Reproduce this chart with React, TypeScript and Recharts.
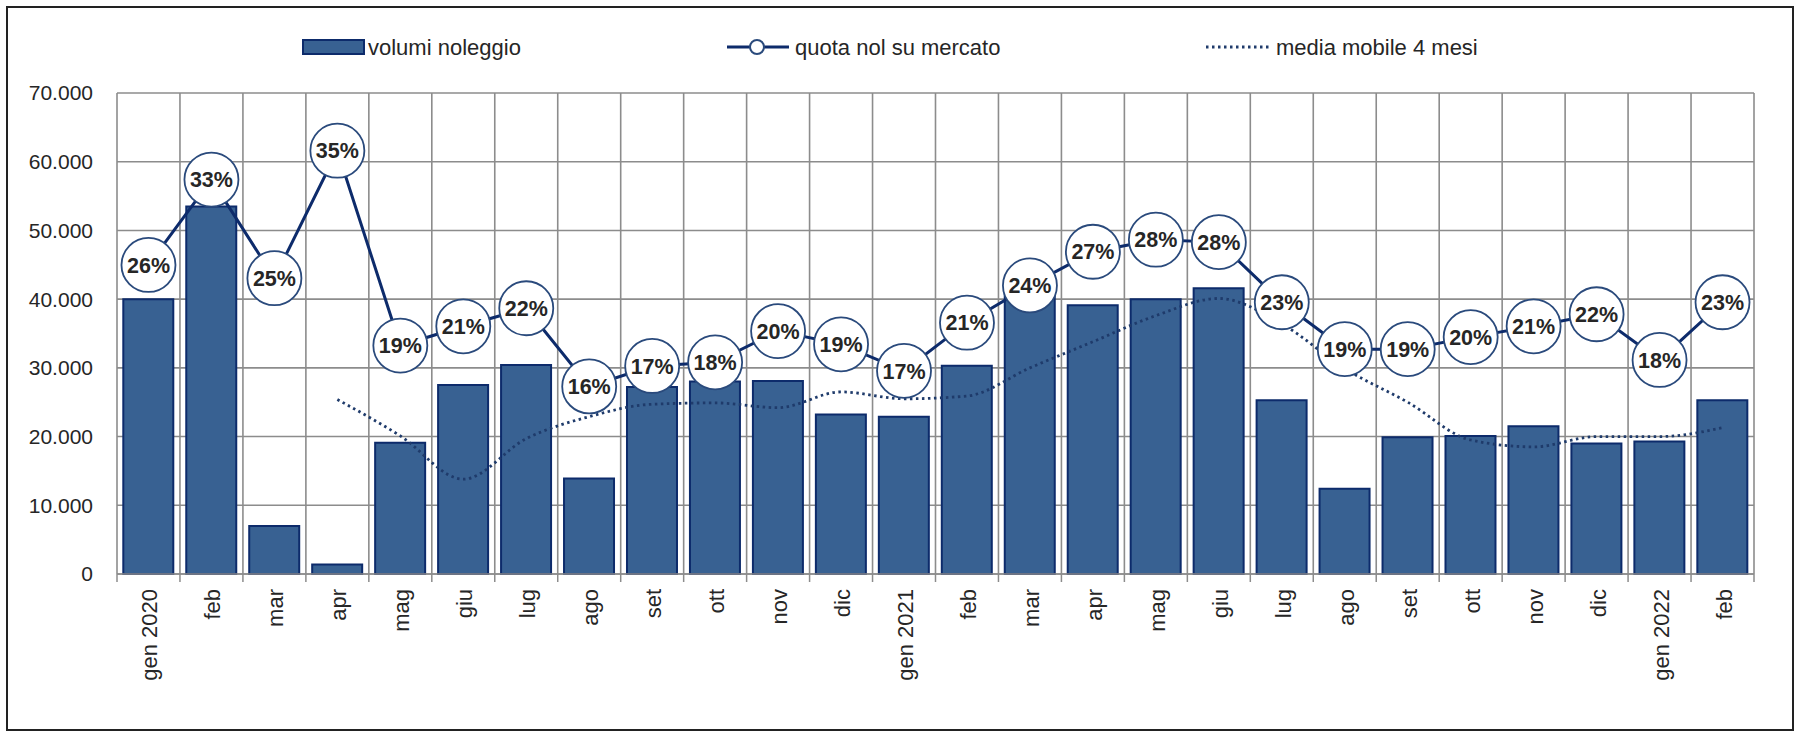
import React from 'react';
import { ComposedChart, Bar, Line, XAxis, YAxis, CartesianGrid } from 'recharts';

// ---- data ----
const months = [
  'gen 2020', 'feb', 'mar', 'apr', 'mag', 'giu', 'lug', 'ago', 'set', 'ott', 'nov', 'dic',
  'gen 2021', 'feb', 'mar', 'apr', 'mag', 'giu', 'lug', 'ago', 'set', 'ott', 'nov', 'dic',
  'gen 2022', 'feb',
];
const volumiNoleggio = [
  40000, 53500, 7000, 1400, 19100, 27500, 30400, 13900, 27200, 28000, 28100, 23200,
  22900, 30300, 42500, 39100, 40000, 41600, 25300, 12400, 19900, 20100, 21500, 19000,
  19300, 25300,
];
const quotaNol = [
  0.257, 0.328, 0.246, 0.352, 0.19, 0.206, 0.221, 0.156, 0.173, 0.176, 0.202, 0.191,
  0.169, 0.209, 0.24, 0.268, 0.278, 0.276, 0.226, 0.187, 0.187, 0.197, 0.206, 0.216,
  0.178, 0.226,
];
const mediaMobile: (number | null)[] = [
  null, null, null, 25400, 20100, 13800, 19700, 22900, 24700, 24900, 24200, 26500,
  25500, 25900, 30000, 33800, 37600, 40100, 36400, 29900, 25000, 19500, 18500, 20000,
  20000, 21300,
];
const yTicks = [0, 10000, 20000, 30000, 40000, 50000, 60000, 70000];
const legendLabels = ['volumi noleggio', 'quota nol su mercato', 'media mobile 4 mesi'];

const data = months.map((m, i) => ({
  key: i,
  month: m,
  volumi: volumiNoleggio[i],
  quota: quotaNol[i],
  media: mediaMobile[i],
}));

// ---- styles ----
const FONT = '"Liberation Sans", Arial, Helvetica, sans-serif';
const TEXT = '#262626';
const GRID = '#8c8c8c';
const BAR_FILL = '#386192';
const NAVY = '#0d2b6b';
const CIRCLE_STROKE = '#2a4a7c';
const DOTTED = '#1f3b6b';

const fmt = (v: number) => String(v).replace(/\B(?=(\d{3})+(?!\d))/g, '.');

const XTick = (props: any) => {
  const { x, y, payload, index } = props;
  const i = Number(payload.value);
  const half = payload.offset || 0;
  const isLast = index === months.length - 1;
  return (
    <g>
      <line x1={x - half} y1={y} x2={x - half} y2={y + 8} stroke={GRID} strokeWidth={1.5} />
      {isLast && <line x1={x + half} y1={y} x2={x + half} y2={y + 8} stroke={GRID} strokeWidth={1.5} />}
      <text
        transform={`translate(${x + 9}, ${y + 15}) rotate(-90)`}
        textAnchor="end"
        fontFamily={FONT}
        fontSize={22}
        fill={TEXT}
      >
        {months[i]}
      </text>
    </g>
  );
};

const QuotaDot = (props: any) => {
  const { cx, cy, value, index } = props;
  if (cx == null || cy == null || value == null) return null;
  return (
    <g key={`qd-${index}`}>
      <circle cx={cx} cy={cy} r={27} fill="#ffffff" stroke={CIRCLE_STROKE} strokeWidth={1.8} />
      <text
        x={cx}
        y={cy}
        dy="0.36em"
        textAnchor="middle"
        fontFamily={FONT}
        fontWeight="bold"
        fontSize={21.5}
        fill={TEXT}
      >
        {Math.round(value * 100)}%
      </text>
    </g>
  );
};

const Legend = () => (
  <svg
    width={1798}
    height={80}
    style={{ position: 'absolute', left: 0, top: 0, pointerEvents: 'none' }}
  >
    <rect x={303} y={40} width={61} height={14} fill={BAR_FILL} stroke={NAVY} strokeWidth={2} />
    <text x={368} y={55} fontFamily={FONT} fontSize={22} fill={TEXT}>{legendLabels[0]}</text>

    <line x1={727} y1={47} x2={789} y2={47} stroke={NAVY} strokeWidth={3} />
    <circle cx={757} cy={47} r={7} fill="#ffffff" stroke={CIRCLE_STROKE} strokeWidth={2} />
    <text x={795} y={55} fontFamily={FONT} fontSize={22} fill={TEXT}>{legendLabels[1]}</text>

    <line x1={1206} y1={47} x2={1271} y2={47} stroke={DOTTED} strokeWidth={2.8} strokeDasharray="2.5 3.5" />
    <text x={1276} y={55} fontFamily={FONT} fontSize={22} fill={TEXT}>{legendLabels[2]}</text>
  </svg>
);

export default function App() {
  const n = months.length;
  return (
    <div style={{ position: 'absolute', left: 0, top: 0, width: 1798, height: 732, background: '#ffffff' }}>
      <ComposedChart
        width={1798}
        height={732}
        data={data}
        margin={{ top: 93, right: 44, bottom: 8, left: 0 }}
        barCategoryGap="10%"
      >
        <CartesianGrid
          yAxisId="vol"
          stroke={GRID}
          strokeWidth={1.6}
          verticalCoordinatesGenerator={({ offset }: any) =>
            Array.from({ length: n + 1 }, (_, i) => offset.left + (i * offset.width) / n)
          }
        />
        <XAxis
          dataKey="key"
          type="category"
          interval={0}
          height={150}
          tickSize={0}
          tickMargin={0}
          tickLine={false}
          axisLine={{ stroke: GRID, strokeWidth: 1.6 }}
          tick={<XTick />}
        />
        <YAxis
          yAxisId="vol"
          domain={[0, 70000]}
          ticks={yTicks}
          interval={0}
          width={117}
          axisLine={false}
          tickLine={false}
          tickSize={6}
          tickMargin={18}
          tickFormatter={fmt}
          tick={{ fontSize: 21, fill: TEXT, fontFamily: FONT }}
        />
        <YAxis yAxisId="pct" orientation="right" domain={[0, 0.4]} hide width={0} />
        <Bar
          yAxisId="vol"
          dataKey="volumi"
          fill={BAR_FILL}
          stroke={NAVY}
          strokeWidth={2}
          isAnimationActive={false}
        />
        <Line
          yAxisId="pct"
          dataKey="quota"
          type="linear"
          stroke={NAVY}
          strokeWidth={3}
          dot={QuotaDot}
          activeDot={false}
          isAnimationActive={false}
        />
        <Line
          yAxisId="vol"
          dataKey="media"
          type="monotone"
          stroke={DOTTED}
          strokeWidth={2.8}
          strokeDasharray="2.5 3.5"
          dot={false}
          activeDot={false}
          connectNulls={false}
          isAnimationActive={false}
        />
      </ComposedChart>
      <Legend />
      <div
        style={{
          position: 'absolute',
          left: 6,
          top: 6,
          width: 1784,
          height: 721,
          border: '2px solid #222222',
          pointerEvents: 'none',
        }}
      />
    </div>
  );
}
